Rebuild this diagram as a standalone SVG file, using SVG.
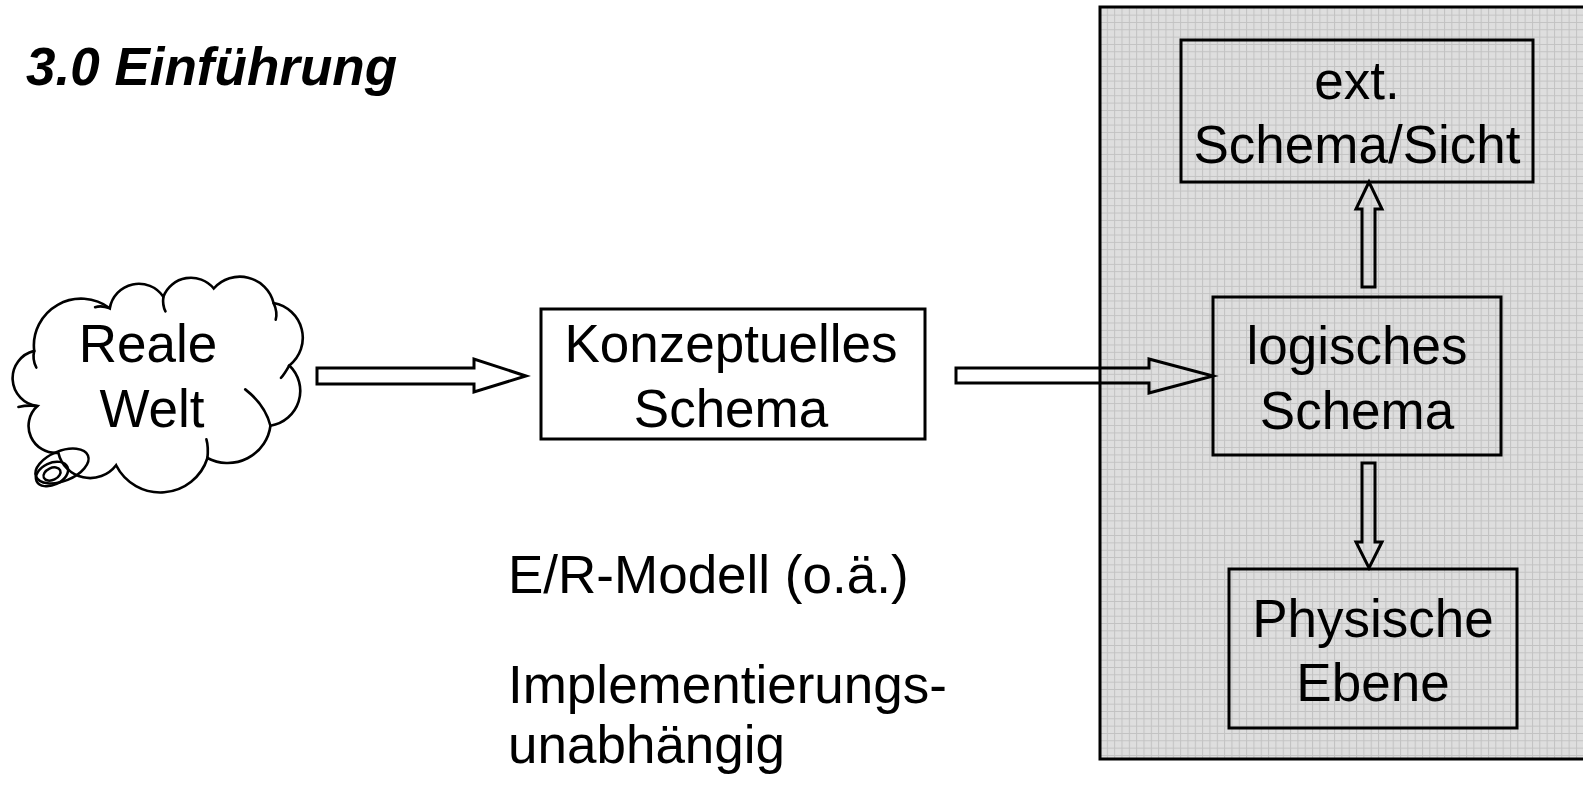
<svg xmlns="http://www.w3.org/2000/svg" width="1583" height="790" viewBox="0 0 1583 790">
<style>
  text { font-family: "Liberation Sans", Arial, sans-serif; font-size: 53px; fill: #000; }
  .c { text-anchor: middle; }
  .title { font-weight: bold; font-style: italic; font-size: 53px; }
  .box { fill: none; stroke: #000; stroke-width: 3; }
  .arrow { fill: none; stroke: #000; stroke-width: 3; stroke-linejoin: miter; }
  .cloud { fill: none; stroke: #000; stroke-width: 2.5; stroke-linecap: round; }
</style>
<defs>
  <pattern id="grid" x="0" y="0" width="7.33" height="7.33" patternUnits="userSpaceOnUse">
    <rect width="7.33" height="7.33" fill="#dedede"/>
    <path d="M0 0.5 H7.33 M0.5 0 V7.33" stroke="#c2c2c2" stroke-width="1" fill="none"/>
  </pattern>
</defs>
<rect width="1583" height="790" fill="#fff"/>

<text class="title" x="26" y="85">3.0 Einführung</text>

<g id="db-panel">
  <rect x="1100" y="7" width="500" height="752" fill="url(#grid)" stroke="#000" stroke-width="3"/>
</g>

<g id="reale-welt">
  <g transform="translate(156 380) scale(1.05 1.04) translate(-156 -380)">
    <path class="cloud" d="M40 352 A45 45 0 0 1 112 311 A28 28 0 0 1 163 300 A28 28 0 0 1 211 292 A33 33 0 0 1 268 306 A34 34 0 0 1 283 366 A34 34 0 0 1 265 424 A41 41 0 0 1 205 455 A47 47 0 0 1 118 462 A31 31 0 0 1 63 450 A26 26 0 0 1 43 405 A27 27 0 0 1 40 352 Z"/>
    <path class="cloud" d="M40 352 Q38 360 42 368"/>
    <path class="cloud" d="M112 311 Q104 308 98 310"/>
    <path class="cloud" d="M163 300 Q162 308 165 314"/>
    <path class="cloud" d="M268 306 Q272 315 270 322"/>
    <path class="cloud" d="M283 366 Q278 375 275 378"/>
    <path class="cloud" d="M265 424 Q260 404 241 389"/>
    <path class="cloud" d="M205 455 Q206 444 204 437"/>
    <path class="cloud" d="M43 405 Q33 404 25 406"/>
  </g>
  <ellipse class="cloud" cx="62" cy="466" rx="28" ry="15" transform="rotate(-22 62 466)"/>
  <ellipse class="cloud" cx="52" cy="474" rx="17" ry="11" transform="rotate(-25 52 474)"/>
  <ellipse class="cloud" cx="52" cy="474" rx="9" ry="6" transform="rotate(-25 52 474)"/>
  <text class="c" x="148" y="362">Reale</text>
  <text class="c" x="152" y="427">Welt</text>
</g>

<g id="konzeptuelles-schema">
  <rect class="box" x="541" y="309" width="384" height="130"/>
  <text class="c" x="731" y="362">Konzeptuelles</text>
  <text class="c" x="731" y="427">Schema</text>
</g>

<g id="ext-schema">
  <rect class="box" x="1181" y="40" width="352" height="142"/>
  <text class="c" x="1357" y="99">ext.</text>
  <text class="c" x="1357" y="163">Schema/Sicht</text>
</g>

<g id="logisches-schema">
  <rect class="box" x="1213" y="297" width="288" height="158"/>
  <text class="c" x="1357" y="364">logisches</text>
  <text class="c" x="1357" y="429">Schema</text>
</g>

<g id="physische-ebene">
  <rect class="box" x="1229" y="569" width="288" height="159"/>
  <text class="c" x="1373" y="637">Physische</text>
  <text class="c" x="1373" y="701">Ebene</text>
</g>

<g id="notes">
  <text x="508" y="593">E/R-Modell (o.ä.)</text>
  <text x="508" y="703">Implementierungs-</text>
  <text x="508" y="763">unabhängig</text>
</g>

<g id="connectors">
  <path class="arrow" d="M317 368 H474 V359 L526 376 L474 392 V384 H317 Z"/>
  <path class="arrow" d="M956 368 H1149 V359 L1213 376 L1149 393 V383 H956 Z"/>
  <path class="arrow" d="M1362 287 V209 H1356 L1369 182 L1382 209 H1375 V287 Z"/>
  <path class="arrow" d="M1362 463 V542 H1356 L1369 568 L1382 542 H1375 V463 Z"/>
</g>
</svg>
